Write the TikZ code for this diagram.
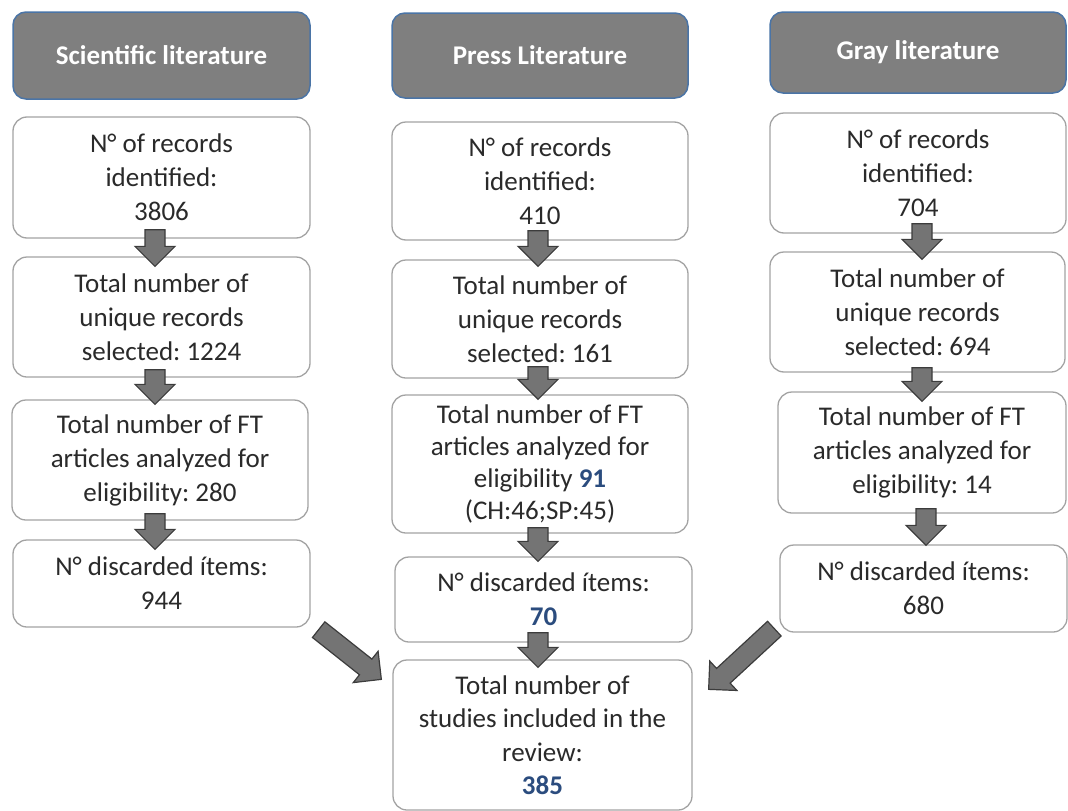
\documentclass[tikz,border=0pt]{standalone}
\usepackage{fontspec}
\setmainfont{Carlito}
\usetikzlibrary{calc}
\frenchspacing
\definecolor{hdrfill}{HTML}{7F7F7F}
\definecolor{hdrline}{HTML}{4A74A6}
\definecolor{boxline}{HTML}{A3A3A3}
\definecolor{txt}{HTML}{2A2A2A}
\definecolor{arrfill}{HTML}{747474}
\definecolor{arrline}{HTML}{3C3C3C}
\definecolor{numc}{HTML}{2B4C7E}
% block arrow from named coordinate #1 (tail) to #2 (tip)
\newcommand\blockarr[2]{%
  \coordinate (bh) at ($(#2)!20pt!(#1)$);
  \filldraw[blockarrow] ($(#1)!10pt!90:(#2)$) -- ($(bh)!10pt!-90:(#1)$) -- ($(bh)!20pt!-90:(#1)$) -- (#2) -- ($(bh)!20pt!90:(#1)$) -- ($(bh)!10pt!90:(#1)$) -- ($(#1)!10pt!-90:(#2)$) -- cycle;}
\newcommand\num[1]{{\bfseries\color{numc}#1}}
\begin{document}
\begin{tikzpicture}[x=1pt,y=-1pt,
  hdr/.style={draw=hdrline, line width=1.5pt, fill=hdrfill, rounded corners=13pt, text=white,
    font=\fontsize{27}{32}\selectfont\bfseries, inner sep=0pt, minimum width=297pt},
  box/.style={draw=boxline, line width=1.3pt, fill=white, rounded corners=14pt, text=txt,
    align=center, font=\fontsize{27}{34}\selectfont, inner sep=0pt},
  blockarrow/.style={fill=arrfill, draw=arrline, line width=1.2pt, line join=miter}]
\useasboundingbox (0,0) rectangle (1068,811);
% headers
\node[hdr, minimum height=87pt] (lh) at (161.5,55.5) {Scientific literature};
\node[hdr, minimum width=296pt, minimum height=85pt] (mh) at (540,55.5) {Press Literature};
\node[hdr, minimum width=296pt, minimum height=81pt] (rh) at (918,52.5) {Gray literature};
% left column
\node[box, minimum width=297pt, minimum height=121pt] (l1) at (161.5,177.5) {N° of records\\identified:\\3806};
\node[box, minimum width=297pt, minimum height=120pt] (l2) at (161.5,317) {Total number of\\unique records\\selected: 1224};
\node[box, minimum width=296pt, minimum height=120pt] (l3) at (160,460) {Total number of FT\\articles analyzed for\\eligibility: 280};
\node[box, minimum width=297pt, minimum height=87pt] (l4) at (161.5,583.5) {N° discarded ítems:\\944};
% middle column
\node[box, minimum width=296pt, minimum height=118pt] (m1) at (540,181) {N° of records\\identified:\\410};
\node[box, minimum width=296pt, minimum height=118pt] (m2) at (540,319) {Total number of\\unique records\\selected: 161};
\node[box, minimum width=296pt, minimum height=138pt, font=\fontsize{27}{32.3}\selectfont] (m3) at (540,464) {Total number of FT\\articles analyzed for\\eligibility \num{91}\\(CH:46;SP:45)};
\node[box, minimum width=297pt, minimum height=85pt] (m4) at (543.5,599.5) {N° discarded ítems:\\\num{70}};
\node[box, minimum width=299pt, minimum height=150pt, font=\fontsize{27}{33.5}\selectfont] (mf) at (542.5,735) {Total number of\\studies included in the\\review:\\\num{385}};
% right column
\node[box, minimum width=296pt, minimum height=120pt] (r1) at (918,173) {N° of records\\identified:\\704};
\node[box, minimum width=295pt, minimum height=120pt] (r2) at (917.5,312) {Total number of\\unique records\\selected: 694};
\node[box, minimum width=288pt, minimum height=121pt] (r3) at (922,452.5) {Total number of FT\\articles analyzed for\\eligibility: 14};
\node[box, minimum width=287pt, minimum height=87pt] (r4) at (923.5,588.5) {N° discarded ítems:\\680};
% arrow end points
\coordinate (l12a) at ($(l1.south)+(-6.5,-9)$);  \coordinate (l12b) at ($(l2.north)+(-6.5,10)$);
\coordinate (l23a) at ($(l2.south)+(-6.5,-8)$);  \coordinate (l23b) at ($(l3.north)+(-5,5)$);
\coordinate (l34a) at ($(l3.south)+(-5,-7)$);    \coordinate (l34b) at ($(l4.north)+(-6.5,10)$);
\coordinate (m12a) at ($(m1.south)+(-2,-10)$);   \coordinate (m12b) at ($(m2.north)+(-2,7)$);
\coordinate (m23a) at ($(m2.south)+(-2,-12)$);   \coordinate (m23b) at ($(m3.north)+(-2,5)$);
\coordinate (m34a) at ($(m3.south)+(-2,-6)$);    \coordinate (m34b) at ($(m4.north)+(-5.5,5)$);
\coordinate (m4fa) at ($(m4.south)+(-5.5,-10)$); \coordinate (m4fb) at ($(mf.north)+(-4.5,8)$);
\coordinate (r12a) at ($(r1.south)+(4,-10)$);    \coordinate (r12b) at ($(r2.north)+(4.5,8)$);
\coordinate (r23a) at ($(r2.south)+(4.5,-5)$);   \coordinate (r23b) at ($(r3.north)+(0,10)$);
\coordinate (r34a) at ($(r3.south)+(4,-5)$);     \coordinate (r34b) at ($(r4.north)+(2.5,1)$);
\coordinate (lfa) at ($(l4.south east)+(8,2)$);  \coordinate (lfb) at ($(mf.north west)+(-11,20)$);
\coordinate (rfa) at ($(r4.south west)+(-5,-4)$); \coordinate (rfb) at ($(mf.north east)+(16,30)$);
% arrows
\blockarr{l12a}{l12b}
\blockarr{l23a}{l23b}
\blockarr{l34a}{l34b}
\blockarr{m12a}{m12b}
\blockarr{m23a}{m23b}
\blockarr{m34a}{m34b}
\blockarr{m4fa}{m4fb}
\blockarr{r12a}{r12b}
\blockarr{r23a}{r23b}
\blockarr{r34a}{r34b}
\blockarr{lfa}{lfb}
\blockarr{rfa}{rfb}
\end{tikzpicture}
\end{document}
